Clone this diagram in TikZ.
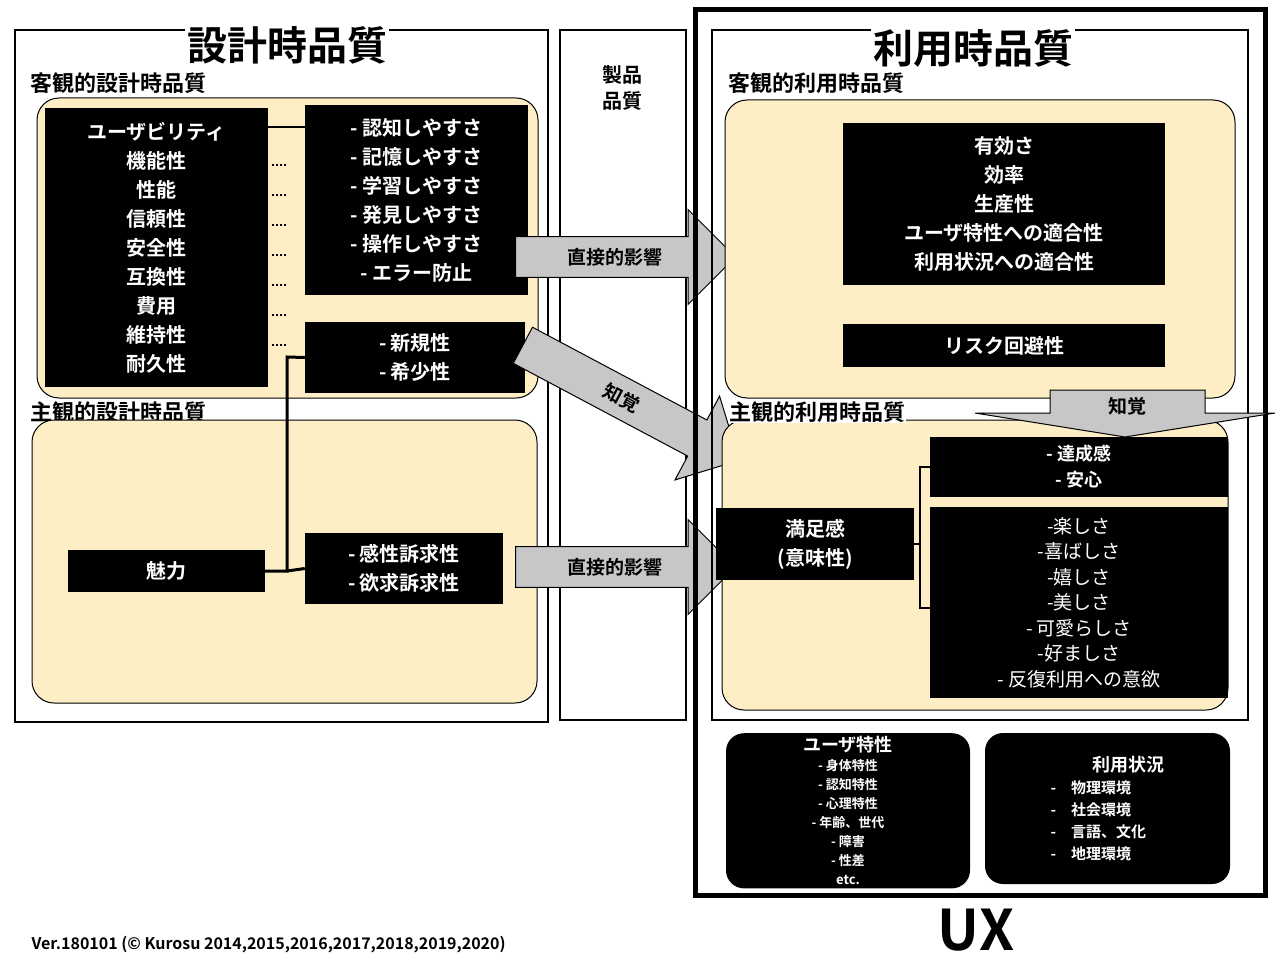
\documentclass[tikz,border=0pt]{standalone}
\usepackage{fontspec}
\setmainfont{Noto Sans CJK JP}[BoldFont={Noto Sans CJK JP Bold}]
\usetikzlibrary{shapes.arrows}
\definecolor{bg}{RGB}{253,238,198}
\begin{document}
\begin{tikzpicture}[x=1pt,y=-1pt,
  frame/.style={draw=black,line width=1.5pt},
  beige/.style={draw=black,line width=1pt,fill=bg,rounded corners=22pt},
  blk/.style={fill=black,text=white,font=\bfseries\fontsize{20}{29}\selectfont,align=center},
  sec/.style={font=\bfseries\fontsize{22}{26}\selectfont,anchor=west,inner sep=0pt},
  ttl/.style={font=\bfseries\fontsize{40}{42}\selectfont,fill=white,inner sep=2pt},
  garrow/.style={draw=black,line width=1pt,fill=black!22,font=\bfseries\fontsize{19}{22}\selectfont,single arrow,inner ysep=11pt,single arrow head extend=27pt}]
\useasboundingbox (0,0) rectangle (1280,960);
\fill[white] (0,0) rectangle (1280,960);
% left
\draw[frame] (15,30) rectangle (548,722);
\node[ttl] (t1) at (287,45) {設計時品質};
\node[sec] (s1) at (30,83) {客観的設計時品質};
\draw[beige] (37,98) rectangle (538,398);
\node[sec] (s2) at (30,412) {主観的設計時品質};
\draw[beige] (32,420) rectangle (537,703);
\node[blk,minimum width=223pt,minimum height=279pt] (q) at (156.5,247.5) {ユーザビリティ\\機能性\\性能\\信頼性\\安全性\\互換性\\費用\\維持性\\耐久性};
\node[blk,minimum width=223pt,minimum height=190pt] (u) at (416.5,200) {- 認知しやすさ\\- 記憶しやすさ\\- 学習しやすさ\\- 発見しやすさ\\- 操作しやすさ\\- エラー防止};
\draw[line width=2pt] (268,127) -- (305,127);
\foreach \y in {165,195,225,255,285,315,345}{\draw[line width=2pt,dotted] (272,\y) -- (286,\y);}
\node[blk,minimum width=220pt,minimum height=71pt] (n) at (415,357.5) {- 新規性\\- 希少性};
\node[blk,minimum width=197pt,minimum height=42pt] (m) at (166.5,571) {魅力};
\node[blk,minimum width=198pt,minimum height=71pt] (k) at (404,568.5) {- 感性訴求性\\- 欲求訴求性};
\draw[line width=3pt] (m.east) -- (287,571) -- (287,357) -- (n.west);
\draw[line width=3pt] (287,571) -- (k.west);
% middle
\draw[frame] (560,30) rectangle (686,720);
\node[font=\bfseries\fontsize{20}{26}\selectfont,align=center] (pq) at (622,88) {製品\\品質};
% arrows
\node[garrow,minimum height=220pt,anchor=west] (a1) at (515,257) {直接的影響\hspace{40pt}};
\node[garrow,minimum height=220pt,anchor=west] (a3) at (515,567) {直接的影響\hspace{40pt}};
\node[garrow,minimum height=245pt,rotate=-28] (a2) at (622,398) {知覚\hspace{50pt}};
% UX
\draw[line width=5pt] (695,10) rectangle (1265,895);
\draw[frame] (712,30) rectangle (1248,720);
\node[ttl] (t2) at (973,48) {利用時品質};
\node[sec] (s3) at (728,83) {客観的利用時品質};
\draw[beige] (725,100) rectangle (1235,398);
\node[blk,minimum width=322pt,minimum height=162pt] (e) at (1004,204) {有効さ\\効率\\生産性\\ユーザ特性への適合性\\利用状況への適合性};
\node[blk,minimum width=322pt,minimum height=43pt] (r) at (1004,345.5) {リスク回避性};
\draw[beige] (722,420) rectangle (1228,710);
\node[sec,fill=white,inner sep=1pt] (s4) at (728,412) {主観的利用時品質};
\draw[line width=1pt,fill=black!22] (1050,390) -- (1205,390) -- (1205,413) -- (1275,413) -- (1125,437) -- (975,413) -- (1050,413) -- cycle;
\node[font=\bfseries\fontsize{19}{22}\selectfont] (pk) at (1127,406) {知覚};
\node[blk,minimum width=298pt,minimum height=60pt,font=\bfseries\fontsize{18}{26}\selectfont] (d) at (1079,467) {- 達成感\\- 安心};
\node[blk,minimum width=298pt,minimum height=191pt,font=\fontsize{19}{25.5}\selectfont] (f) at (1079,602.5) {-楽しさ\\-喜ばしさ\\-嬉しさ\\-美しさ\\- 可愛らしさ\\-好ましさ\\- 反復利用への意欲};
\node[blk,minimum width=198pt,minimum height=72pt] (sat) at (815,544) {満足感\\(意味性)};
\draw[line width=2pt] (sat.east) -- (920,544);
\draw[line width=2pt] (930,467) -- (920,467) -- (920,608) -- (930,608);
\node[blk,rounded corners=18pt,minimum width=244pt,minimum height=151pt,font=\bfseries\fontsize{13}{19}\selectfont,anchor=north] (us) at (848,733) {\fontsize{18}{20}\selectfont ユーザ特性\\- 身体特性\\- 認知特性\\- 心理特性\\- 年齢、世代\\- 障害\\- 性差\\etc.};
\node[blk,rounded corners=18pt,minimum width=245pt,minimum height=151pt,font=\bfseries\fontsize{15}{22}\selectfont,align=left] (ctx) at (1107.5,808.5) {\hspace{42pt}{\fontsize{18}{22}\selectfont 利用状況}\\-\quad 物理環境\\-\quad 社会環境\\-\quad 言語、文化\\-\quad 地理環境};
\node[font=\bfseries\fontsize{56}{60}\selectfont] (ux) at (976,930) {UX};
\node[font=\bfseries\fontsize{16}{18}\selectfont,anchor=west] (ver) at (28,945) {Ver.180101 (© Kurosu 2014,2015,2016,2017,2018,2019,2020)};
\end{tikzpicture}
\end{document}
